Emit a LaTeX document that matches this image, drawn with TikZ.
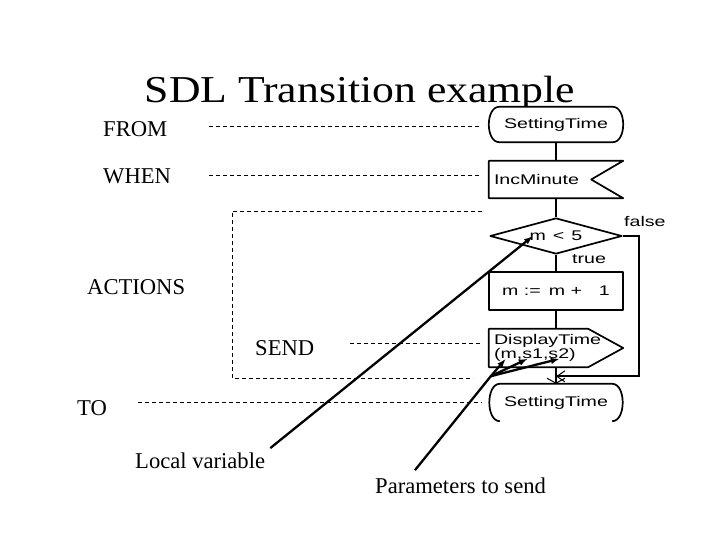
\documentclass[tikz,border=0pt]{standalone}
\usepackage{fontspec}
\setmainfont{Liberation Serif}
\newfontfamily\titlefont[FakeStretch=1.15]{Liberation Serif}
\newfontfamily\sdlfont[FakeStretch=1.4]{Liberation Sans}
\usetikzlibrary{arrows.meta,shapes.geometric,calc,positioning}

\tikzset{
    titletext/.style={font=\titlefont\fontsize{38}{44}\selectfont, inner sep=0pt},
    tag/.style={font=\fontsize{22.6}{26}\selectfont, inner sep=0pt, anchor=base west},
    guide/.style={draw=black, dash pattern=on 4pt off 3pt, line width=0.9pt},
    sdl/.style={inner sep=0pt, minimum width=134pt, minimum height=37pt, font=\sdlfont\fontsize{14}{12.5}\selectfont},
    sdlleft/.style={sdl, text width=124pt, align=left, inner xsep=5pt},
    outline/.style={draw=black, line width=1.7pt, line join=round},
    flow/.style={draw=black, line width=2pt},
    branch/.style={font=\sdlfont\fontsize{14}{12}\selectfont, inner sep=0pt, anchor=west},
    pointer/.style={draw=black, line width=2.3pt, -{Latex[length=9pt,width=6.5pt]}},
}

\begin{document}
\begin{tikzpicture}[x=1pt,y=-1pt]
    \useasboundingbox (0,0) rectangle (720,540);

    \node[titletext, anchor=base] (title) at (360,103) {SDL Transition example};

    % the transition
    \node[sdl, fill=white, minimum width=137pt, minimum height=35pt] (st1) at (556,124.5) {SettingTime};
    \node[sdlleft, minimum width=133pt] (inp) at (556,179.5) {IncMinute};
    \node[sdl, diamond, outline, aspect=3.67, minimum width=132pt, minimum height=36pt] (dec) at (556,236) {m\hspace{7pt}<\hspace{7pt}5};
    \node[sdl, outline, minimum height=38pt] (task) at (556,291) {m :=\hspace{8pt}m +\hspace{17pt}1};
    \node[sdlleft, minimum height=38pt] (out) at (556,348) {DisplayTime\\(m,s1,s2)};
    \node[sdl, minimum width=136pt] (st2) at (556,402.5) {SettingTime};

    \draw[outline] ($(st1.north west)+(12,0)$) -- ($(st1.north east)+(-12,0)$)
        .. controls +(14,0) and +(14,0) .. ($(st1.south east)+(-12,0)$)
        -- ($(st1.south west)+(12,0)$)
        .. controls +(-14,0) and +(-14,0) .. ($(st1.north west)+(12,0)$) -- cycle;
    \draw[outline] (inp.north west) -- (inp.north east) -- ($(inp.east)+(-32,0)$)
        -- (inp.south east) -- (inp.south west) -- cycle;
    \draw[outline] (out.north west) -- ($(out.north east)+(-35,0)$) -- (out.east)
        -- ($(out.south east)+(-35,0)$) -- (out.south west) -- cycle;
    \draw[outline] ($(st2.south west)+(12,0)$)
        .. controls +(-14,0) and +(-14,0) .. ($(st2.north west)+(12,0)$)
        -- ($(st2.north east)+(-12,0)$)
        .. controls +(14,0) and +(14,0) .. ($(st2.south east)+(-12,0)$);

    \draw[flow] (st1.south) -- (inp.north);
    \draw[flow] (inp.south) -- (dec.north);
    \draw[flow] (dec.south) -- (task.north);
    \draw[flow] (task.south) -- (out.north);
    \draw[flow, -{Straight Barb[length=5pt,width=18pt,line width=1pt]}] (out.south) -- (st2.north);
    \coordinate (join) at ($(out.south)!0.55!(st2.north)$);
    \draw[flow, -{Straight Barb[length=8pt,width=11pt,line width=1pt]}] (dec.east) -| ($(join)+(83,0)$) -- (join);

    \node[branch] (false) at (624,221) {false};
    \node[branch] (true) at (572,259) {true};

    % what each part is called
    \node[tag] (from) at (103,137) {FROM};
    \node[tag] (when) at (103,184) {WHEN};
    \node[tag] (actions) at (87,294) {ACTIONS};
    \node[tag] (send) at (255,355) {SEND};
    \node[tag] (to) at (77,415) {TO};
    \node[tag] (locvar) at (135,468) {Local variable};
    \node[tag] (params) at (375,493) {Parameters to send};

    \draw[guide] ($(from.east)+(42,-3.5)$) -- +(270,0);
    \draw[guide] ($(when.east)+(38,-1.5)$) -- +(270,0);
    \draw[guide] (482,211) -| (232,378) -- (473,378);
    \draw[guide] ($(send.east)+(36,-4.5)$) -- +(130,0);
    \draw[guide] ($(to.east)+(31,-5.5)$) -- +(344,0);

    \draw[pointer] ($(locvar.north east)+(5,-4)$) -- ($(dec.center)+(-23,0)$);
    \coordinate (hub) at ($(out.south west)+(2,9)$);
    \draw[flow, line width=2.3pt] ($(params.north west)+(40,-7)$) -- (hub);
    \foreach \dx in {17,39,71}
        \draw[pointer] (hub) -- ($(out.south west)+(\dx,-8.5)$);
\end{tikzpicture}
\end{document}
